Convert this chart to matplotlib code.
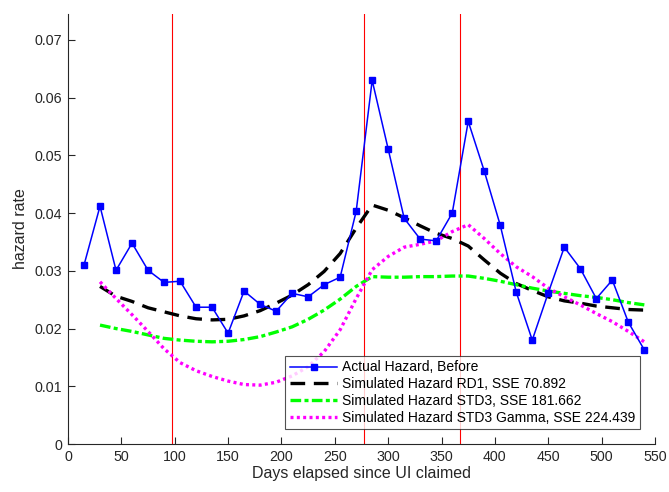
import matplotlib
matplotlib.use("Agg")
import matplotlib.pyplot as plt

plt.rcParams['font.family'] = ['Liberation Sans', 'DejaVu Sans']

# Actual hazard (every 15 days)
days_actual = [15, 30, 45, 60, 75, 90, 105, 120, 135, 150, 165, 180, 195, 210, 225, 240,
               255, 270, 285, 300, 315, 330, 345, 360, 375, 390, 405, 420, 435, 450, 465,
               480, 495, 510, 525, 540]
actual = [0.0310, 0.0412, 0.0301, 0.0348, 0.0301, 0.0280, 0.0282, 0.0237, 0.0237, 0.0192,
          0.0265, 0.0242, 0.0230, 0.0261, 0.0255, 0.0276, 0.0289, 0.0403, 0.0630, 0.0511,
          0.0391, 0.0355, 0.0352, 0.0400, 0.0559, 0.0473, 0.0379, 0.0263, 0.0180, 0.0262,
          0.0341, 0.0304, 0.0252, 0.0284, 0.0211, 0.0163]

days_sim = [30, 45, 60, 75, 90, 105, 120, 135, 150, 165, 180, 195, 210, 225, 240, 255,
            270, 285, 300, 315, 330, 345, 360, 375, 390, 405, 420, 435, 450, 465, 480,
            495, 510, 525, 540]
rd1 = [0.0273, 0.0256, 0.0247, 0.0236, 0.0229, 0.0222, 0.0217, 0.0215, 0.0216, 0.0222,
       0.0231, 0.0244, 0.0258, 0.0276, 0.0299, 0.0330, 0.0374, 0.0414, 0.0405, 0.0392,
       0.0378, 0.0365, 0.0356, 0.0343, 0.0319, 0.0296, 0.0278, 0.0266, 0.0255, 0.0248,
       0.0244, 0.0239, 0.0236, 0.0233, 0.0232]
std3 = [0.0206, 0.0200, 0.0195, 0.0189, 0.0183, 0.0180, 0.0178, 0.0177, 0.0178, 0.0181,
        0.0186, 0.0194, 0.0203, 0.0216, 0.0232, 0.0251, 0.0273, 0.0290, 0.0289, 0.0289,
        0.0290, 0.0290, 0.0291, 0.0291, 0.0287, 0.0282, 0.0276, 0.0270, 0.0265, 0.0261,
        0.0257, 0.0254, 0.0250, 0.0245, 0.0241]
std3_gamma = [0.0281, 0.0252, 0.0224, 0.0195, 0.0165, 0.0141, 0.0127, 0.0117, 0.0109, 0.0103,
              0.0102, 0.0107, 0.0118, 0.0134, 0.0160, 0.0198, 0.0252, 0.0302, 0.0325, 0.0341,
              0.0346, 0.0352, 0.0368, 0.0380, 0.0356, 0.0330, 0.0307, 0.0290, 0.0270, 0.0255,
              0.0241, 0.0226, 0.0212, 0.0195, 0.0177]

vlines = [97, 277, 367]

labels = ['Actual Hazard, Before',
          'Simulated Hazard RD1, SSE 70.892',
          'Simulated Hazard STD3, SSE 181.662',
          'Simulated Hazard STD3 Gamma, SSE 224.439']

fig = plt.figure(figsize=(6.69, 4.92), dpi=100)
ax = fig.add_axes([68/669, 48/492, 587/669, 430/492])

for v in vlines:
    ax.axvline(v, color='red', lw=0.8, zorder=1)

ax.plot(days_actual, actual, color='#0000ff', lw=1.1, marker='s', markersize=4.8,
        label=labels[0], zorder=3)
ax.plot(days_sim, rd1, color='black', lw=2.4, dashes=(4.4, 2.6), label=labels[1], zorder=2)
ax.plot(days_sim, std3, color='#00ff00', lw=2.4, dashes=(3.2, 1.0, 1.2, 1.0), label=labels[2], zorder=2)
ax.plot(days_sim, std3_gamma, color='#ff00ff', lw=2.4, dashes=(0.9, 1.0), label=labels[3], zorder=2)

ax.set_xlim(0, 550)
ax.set_ylim(0, 0.0745)
ax.set_xticks(range(0, 551, 50))
ax.set_yticks([0, 0.01, 0.02, 0.03, 0.04, 0.05, 0.06, 0.07])
ax.set_yticklabels(['0', '0.01', '0.02', '0.03', '0.04', '0.05', '0.06', '0.07'])

for s in ['top', 'right']:
    ax.spines[s].set_visible(False)
for s in ['left', 'bottom']:
    ax.spines[s].set_color('#262626')
    ax.spines[s].set_linewidth(0.8)
ax.tick_params(direction='in', length=5, width=0.8, colors='#262626', labelsize=10.3, pad=4)

ax.set_xlabel('Days elapsed since UI claimed', fontsize=11.5, color='#262626', labelpad=2)
ax.set_ylabel('hazard rate', fontsize=11.5, color='#262626', labelpad=5)

leg = ax.legend(loc='lower right', bbox_to_anchor=(0.974, 0.035), borderaxespad=0,
                fontsize=10, frameon=True, fancybox=False, edgecolor='#262626',
                handlelength=3.45, handletextpad=0.35, labelspacing=0.2, borderpad=0.3)
leg.get_frame().set_linewidth(0.8)

fig.savefig('out.png', dpi=100)
